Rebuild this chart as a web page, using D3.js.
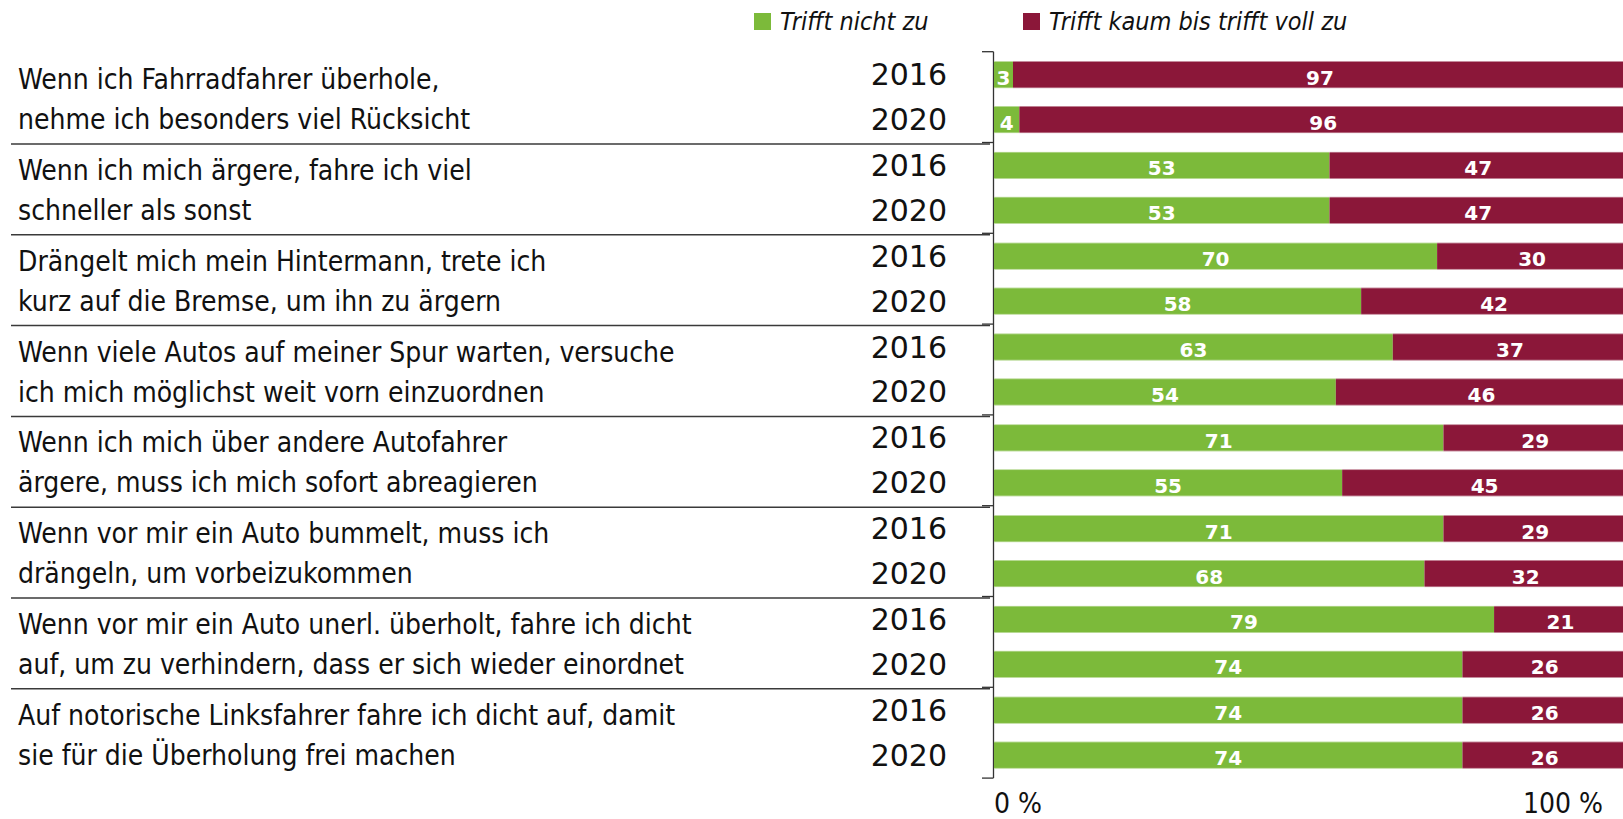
<!DOCTYPE html>
<html>
<head>
<meta charset="utf-8">
<script src="https://cdn.jsdelivr.net/npm/d3@7"></script>
<style>
  html, body { margin: 0; padding: 0; background: #fff; }
  .cond { font-family: "DejaVu Sans Condensed", "DejaVu Sans", sans-serif; font-stretch: condensed; }
  .year { font-family: "DejaVu Sans", sans-serif; }
  .val { font-family: "DejaVu Sans", sans-serif; font-weight: bold; fill: #fff; }
</style>
</head>
<body>
<div id="chart"></div>
<script>
// Data
var statements = ["s1", "s2", "s3", "s4", "s5", "s6", "s7", "s8"];
var labelLines = [
    ["Wenn ich Fahrradfahrer überhole,", "nehme ich besonders viel Rücksicht"],
    ["Wenn ich mich ärgere, fahre ich viel", "schneller als sonst"],
    ["Drängelt mich mein Hintermann, trete ich", "kurz auf die Bremse, um ihn zu ärgern"],
    ["Wenn viele Autos auf meiner Spur warten, versuche", "ich mich möglichst weit vorn einzuordnen"],
    ["Wenn ich mich über andere Autofahrer", "ärgere, muss ich mich sofort abreagieren"],
    ["Wenn vor mir ein Auto bummelt, muss ich", "drängeln, um vorbeizukommen"],
    ["Wenn vor mir ein Auto unerl. überholt, fahre ich dicht", "auf, um zu verhindern, dass er sich wieder einordnet"],
    ["Auf notorische Linksfahrer fahre ich dicht auf, damit", "sie für die Überholung frei machen"]
];
var years = ["2016", "2020"];
// "Trifft nicht zu" per statement: [2016, 2020]
var nichtZu = [[3, 4], [53, 53], [70, 58], [63, 54], [71, 55], [71, 68], [79, 74], [74, 74]];
// "Trifft kaum bis trifft voll zu" per statement: [2016, 2020]
var vollZu = [[97, 96], [47, 47], [30, 42], [37, 46], [29, 45], [29, 32], [21, 26], [26, 26]];
var seriesNames = ["Trifft nicht zu", "Trifft kaum bis trifft voll zu"];
var axisLabels = ["0 %", "100 %"];

var colors = ["#7cba3a", "#8b1739"];

var width = 1623;
var height = 819;

var svg = d3.select("#chart")
    .append("svg")
    .attr("width", width)
    .attr("height", height);

// Scales
var xScale = d3.scaleLinear()
    .domain([0, 100])
    .range([994, 1627]);

var groupScale = d3.scaleBand()
    .domain(statements)
    .range([51.7, 778.1])
    .padding(0);

var yearScale = d3.scaleBand()
    .domain(years)
    .range([0, groupScale.bandwidth()])
    .paddingInner(0.4)
    .paddingOuter(0.21);

// Rows: one per statement and year
var rows = [];
statements.forEach(function(s, i){
    years.forEach(function(y, j){
        rows.push({
            stmt: s,
            year: y,
            values: [nichtZu[i][j], vollZu[i][j]]
        });
    });
});

function rowY(d){
    return groupScale(d.stmt) + yearScale(d.year);
}

// Separator lines between statements
var bounds = statements.slice(1).map(function(s){ return groupScale(s); });
svg.append("g")
    .selectAll("line")
    .data(bounds)
    .enter()
    .append("line")
    .attr("x1", 11)
    .attr("x2", 990)
    .attr("y1", function(d){ return d + 1.5; })
    .attr("y2", function(d){ return d + 1.5; })
    .attr("stroke", "#3a3a3a")
    .attr("stroke-width", 1.5);

// Category axis with ticks on group boundaries
var tickPos = statements.map(function(s){ return groupScale(s); }).concat([groupScale.range()[1]]);
var axisG = svg.append("g");
axisG.append("line")
    .attr("x1", 993.5)
    .attr("x2", 993.5)
    .attr("y1", tickPos[0])
    .attr("y2", tickPos[tickPos.length - 1])
    .attr("stroke", "#333")
    .attr("stroke-width", 1.3);
axisG.selectAll("line.tick")
    .data(tickPos)
    .enter()
    .append("line")
    .attr("class", "tick")
    .attr("x1", 982)
    .attr("x2", 993.5)
    .attr("y1", function(d){ return d; })
    .attr("y2", function(d){ return d; })
    .attr("stroke", "#333")
    .attr("stroke-width", 1.3);

// Stacked bars
var rowG = svg.append("g")
    .selectAll("g")
    .data(rows)
    .enter()
    .append("g")
    .attr("transform", function(d){ return "translate(0," + rowY(d) + ")"; });

var segs = rowG.selectAll("g.seg")
    .data(function(d){
        var start = 0;
        return d.values.map(function(v, k){
            var seg = { x0: start, x1: start + v, v: v, k: k };
            start += v;
            return seg;
        });
    })
    .enter()
    .append("g")
    .attr("class", "seg");

segs.append("rect")
    .attr("x", function(d){ return xScale(d.x0); })
    .attr("width", function(d){ return xScale(d.x1) - xScale(d.x0); })
    .attr("y", 0)
    .attr("height", yearScale.bandwidth())
    .attr("fill", function(d){ return colors[d.k]; });

// thin light edge on top/bottom of bars
rowG.append("line")
    .attr("x1", xScale(0)).attr("x2", xScale(100))
    .attr("y1", 0.3).attr("y2", 0.3)
    .attr("stroke", "rgba(255,255,255,0.45)");
rowG.append("line")
    .attr("x1", xScale(0)).attr("x2", xScale(100))
    .attr("y1", yearScale.bandwidth() - 0.3).attr("y2", yearScale.bandwidth() - 0.3)
    .attr("stroke", "rgba(255,255,255,0.45)");

segs.append("text")
    .attr("class", "val")
    .attr("x", function(d){ return (xScale(d.x0) + xScale(d.x1)) / 2; })
    .attr("y", yearScale.bandwidth() / 2 + 10)
    .attr("text-anchor", "middle")
    .attr("font-size", 20)
    .text(function(d){ return d.v; });

// Year labels
rowG.append("text")
    .attr("class", "year")
    .attr("x", 947)
    .attr("y", yearScale.bandwidth() / 2 + 10.5)
    .attr("text-anchor", "end")
    .attr("font-size", 30)
    .attr("fill", "#111")
    .text(function(d){ return d.year; });

// Statement labels
var labG = svg.append("g")
    .selectAll("text")
    .data(statements)
    .enter()
    .append("text")
    .attr("class", "cond")
    .attr("font-size", 28)
    .attr("fill", "#111");

labG.selectAll("tspan")
    .data(function(d, i){ return labelLines[i]; })
    .enter()
    .append("tspan")
    .attr("x", 18)
    .attr("y", function(d, j){
        var s = d3.select(this.parentNode).datum();
        return groupScale(s) + groupScale.bandwidth() / 2 - 8 + j * 40;
    })
    .text(function(d){ return d; });

// Legend
var legend = svg.append("g")
    .selectAll("g")
    .data(seriesNames)
    .enter()
    .append("g")
    .attr("transform", function(d, i){ return "translate(" + [754, 1023][i] + ",13)"; });

legend.append("rect")
    .attr("width", 17)
    .attr("height", 17)
    .attr("fill", function(d, i){ return colors[i]; });

legend.append("text")
    .attr("class", "cond")
    .attr("x", 26)
    .attr("y", 17)
    .attr("font-size", 25)
    .attr("font-style", "italic")
    .attr("fill", "#111")
    .text(function(d){ return d; });

// Value axis end labels
svg.append("text")
    .attr("class", "cond")
    .attr("x", xScale(0))
    .attr("y", 813)
    .attr("font-size", 28)
    .attr("fill", "#111")
    .text(axisLabels[0]);

svg.append("text")
    .attr("class", "cond")
    .attr("x", xScale(100) - 24)
    .attr("y", 813)
    .attr("text-anchor", "end")
    .attr("font-size", 28)
    .attr("fill", "#111")
    .text(axisLabels[1]);
</script>
</body>
</html>
